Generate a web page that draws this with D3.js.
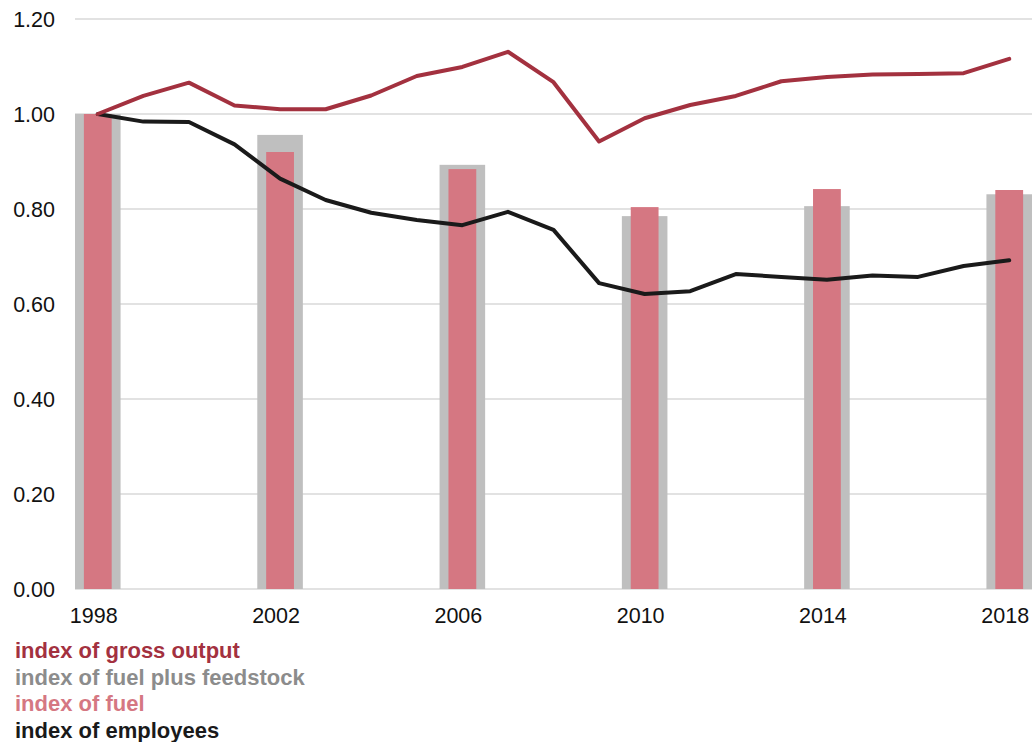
<!DOCTYPE html>
<html>
<head>
<meta charset="utf-8">
<script src="https://cdn.jsdelivr.net/npm/d3@7"></script>
<style>
  body { margin: 0; background: #fff; }
  svg text { font-family: "Liberation Sans", Arial, sans-serif; }
</style>
</head>
<body>
<div id="chart-container"></div>
<script>
var years = d3.range(1998, 2019);
var grossOutput = [1.000, 1.038, 1.066, 1.018, 1.010, 1.010, 1.039, 1.080, 1.099, 1.131, 1.067,
                   0.942, 0.991, 1.019, 1.038, 1.069, 1.078, 1.083, 1.084, 1.086, 1.116];
var employees = [1.000, 0.984, 0.983, 0.936, 0.864, 0.819, 0.792, 0.777, 0.766, 0.794, 0.756,
                 0.644, 0.621, 0.627, 0.663, 0.657, 0.651, 0.660, 0.657, 0.680, 0.692];
var barYears = [1998, 2002, 2006, 2010, 2014, 2018];
var fuelFeedstock = [1.000, 0.956, 0.893, 0.785, 0.806, 0.831];
var fuel = [1.000, 0.920, 0.884, 0.804, 0.842, 0.840];
var yTicks = [0, 0.2, 0.4, 0.6, 0.8, 1.0, 1.2];
var legendItems = ["index of gross output", "index of fuel plus feedstock", "index of fuel", "index of employees"];
var legendColors = ["#a3313f", "#8c8c8c", "#d57782", "#1a1a1a"];

var width = 1034, height = 742;
var plotLeft = 75, plotRight = 1032, plotTop = 19, plotBottom = 589;

var svg = d3.select("#chart-container").append("svg")
    .attr("width", width)
    .attr("height", height);

var xScale = d3.scaleBand()
    .domain(years)
    .range([plotLeft, plotRight])
    .padding(0);

var yScale = d3.scaleLinear()
    .domain([0, 1.2])
    .range([plotBottom, plotTop]);

var cx = d => xScale(d) + xScale.bandwidth() / 2;

// gridlines
svg.append("g").selectAll("line")
    .data(yTicks).enter().append("line")
    .attr("x1", plotLeft)
    .attr("x2", plotRight)
    .attr("y1", d => yScale(d))
    .attr("y2", d => yScale(d))
    .attr("stroke", "#d9d9d9")
    .attr("stroke-width", 1.5);

// y labels
svg.append("g").selectAll("text")
    .data(yTicks).enter().append("text")
    .attr("x", 55)
    .attr("y", d => yScale(d))
    .attr("dy", "0.35em")
    .attr("text-anchor", "end")
    .attr("font-size", 21.5)
    .attr("fill", "#111")
    .text(d => d.toFixed(2));

// x labels
svg.append("g").selectAll("text")
    .data(barYears).enter().append("text")
    .attr("x", d => cx(d) - 4)
    .attr("y", 623)
    .attr("text-anchor", "middle")
    .attr("font-size", 21.5)
    .attr("fill", "#111")
    .text(d => d);

// bars
var bw = xScale.bandwidth();
svg.append("g").selectAll("rect")
    .data(barYears).enter().append("rect")
    .attr("x", d => xScale(d))
    .attr("width", bw)
    .attr("y", (d, i) => yScale(fuelFeedstock[i]))
    .attr("height", (d, i) => yScale(0) - yScale(fuelFeedstock[i]))
    .attr("fill", "#bfbfbf");

var pw = bw * 0.61;
svg.append("g").selectAll("rect")
    .data(barYears).enter().append("rect")
    .attr("x", d => cx(d) - pw / 2)
    .attr("width", pw)
    .attr("y", (d, i) => yScale(fuel[i]))
    .attr("height", (d, i) => yScale(0) - yScale(fuel[i]))
    .attr("fill", "#d57782");

// lines
var line = d3.line()
    .x((d, i) => cx(years[i]))
    .y(d => yScale(d));

svg.append("path")
    .datum(employees)
    .attr("d", line)
    .attr("fill", "none")
    .attr("stroke", "#1a1a1a")
    .attr("stroke-width", 4)
    .attr("stroke-linecap", "round")
    .attr("stroke-linejoin", "round");

svg.append("path")
    .datum(grossOutput)
    .attr("d", line)
    .attr("fill", "none")
    .attr("stroke", "#a3313f")
    .attr("stroke-width", 4)
    .attr("stroke-linecap", "round")
    .attr("stroke-linejoin", "round");

// legend
svg.append("g").selectAll("text")
    .data(legendItems).enter().append("text")
    .attr("x", 15)
    .attr("y", (d, i) => 658 + i * 26.5)
    .attr("font-size", 22)
    .attr("font-weight", "bold")
    .attr("fill", (d, i) => legendColors[i])
    .text(d => d);
</script>
</body>
</html>
